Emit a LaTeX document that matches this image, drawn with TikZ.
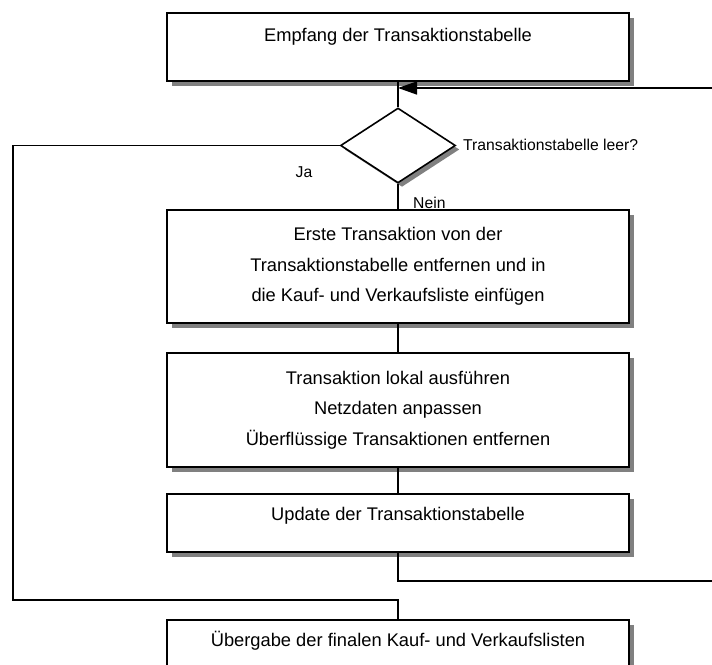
\documentclass[tikz,border=0pt]{standalone}
\usepackage{fontspec}
\setmainfont{Liberation Sans}
\usetikzlibrary{shapes.geometric, arrows.meta, shadows}
\definecolor{shade}{RGB}{128, 128, 128}
\tikzset{
    process/.style={rectangle, draw=black, line width=1.6pt, fill=white, minimum width=462pt, align=center, inner ysep=0pt, font=\fontsize{18.3}{30.5}\selectfont, drop shadow={fill=shade, opacity=1, shadow xshift=5pt, shadow yshift=-5.5pt}},
    decision/.style={diamond, draw=black, line width=1.6pt, fill=white, minimum width=115pt, minimum height=75pt, inner sep=0pt, drop shadow={fill=shade, opacity=1, shadow xshift=4pt, shadow yshift=-4pt}},
    lbl/.style={font=\fontsize{15.7}{18}\selectfont, inner sep=0pt},
    conn/.style={line width=1.5pt, black},
    arr/.style={conn, -{Triangle[length=19pt, width=13pt]}}
}
\begin{document}
\begin{tikzpicture}[x=1pt, y=1pt]
    \useasboundingbox (0,0) rectangle (712,664);
    \node[process, anchor=north, text height=29pt, text depth=39pt] (empfang) at (398,652) {Empfang der Transaktionstabelle};
    \node[decision] (leer) at (398,518.5) {};
    \node[process, minimum height=113pt] (entfernen) at (398,397.5) {Erste Transaktion von der\\Transaktionstabelle entfernen und in\\die Kauf- und Verkaufsliste einfügen};
    \node[process, minimum height=114pt] (ausfuehren) at (398,254) {Transaktion lokal ausführen\\Netzdaten anpassen\\Überflüssige Transaktionen entfernen};
    \node[process, anchor=north, text height=27pt, text depth=31pt] (update) at (398,171) {Update der Transaktionstabelle};
    \node[process, anchor=north, text height=27pt, text depth=31pt] (uebergabe) at (398,45) {Übergabe der finalen Kauf- und Verkaufslisten};
    % labels at the decision
    \node[lbl, anchor=west] (frage) at (463,519) {Transaktionstabelle leer?};
    \node[lbl] (ja) at (304,492) {Ja};
    \node[lbl, anchor=west] (nein) at (413,461) {Nein};
    \coordinate (merge) at (398,576);
    \coordinate (rechts) at (716,83);
    \coordinate (links) at (13,64);
    \draw[conn] (empfang) -- (leer);
    \draw[conn] (leer) -- (entfernen);
    \draw[conn] (entfernen) -- (ausfuehren);
    \draw[conn] (ausfuehren) -- (update);
    \draw[arr] (update.south) |- (rechts) |- (merge);
    \draw[conn] (leer.west) -| (links) -| (uebergabe.north);
\end{tikzpicture}
\end{document}
